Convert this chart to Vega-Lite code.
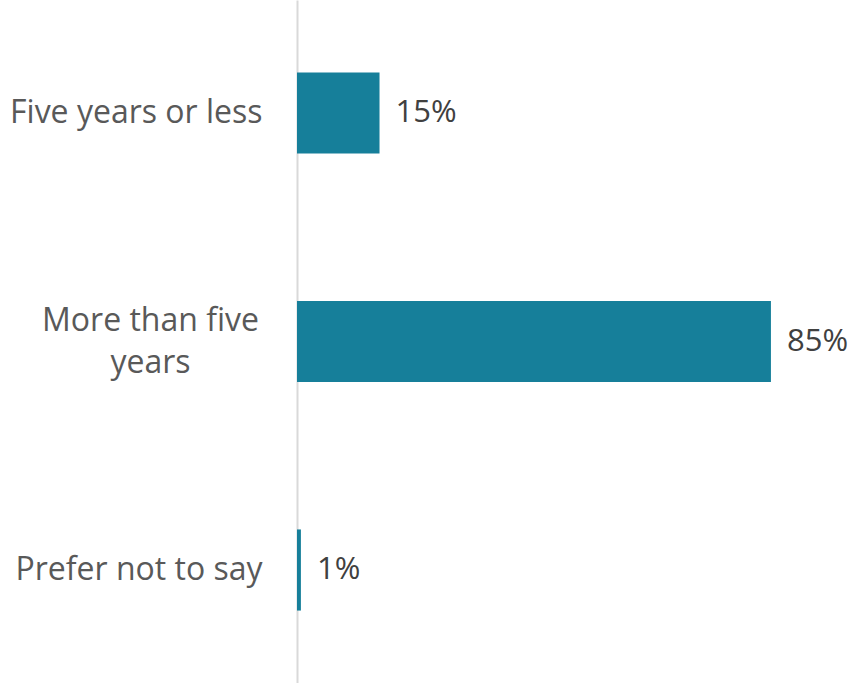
{
  "$schema": "https://vega.github.io/schema/vega-lite/v6.json",
  "width": 552,
  "height": 683,
  "autosize": {"type": "none"},
  "padding": {"left": 297, "top": 0, "right": 0, "bottom": 0},
  "background": "white",
  "config": {"view": {"stroke": null}, "font": "Open Sans"},
  "data": {
    "values": [
      {"category": "Five years or less", "value": 14.8, "label": "15%"},
      {"category": "More than five years", "value": 85, "label": "85%"},
      {"category": "Prefer not to say", "value": 0.7, "label": "1%"}
    ]
  },
  "encoding": {
    "y": {
      "field": "category",
      "type": "nominal",
      "sort": null,
      "scale": {"paddingInner": 0.645, "paddingOuter": 0.317},
      "axis": {
        "title": null,
        "ticks": false,
        "domainColor": "#d9d9d9",
        "domainWidth": 2,
        "labelFont": "Open Sans",
        "labelFontSize": 32,
        "labelColor": "#595959",
        "labelPadding": {"condition": {"test": "datum.value == 'More than five years'", "value": 147}, "value": 35},
        "labelAlign": {"condition": {"test": "datum.value == 'More than five years'", "value": "center"}, "value": "right"},
        "labelOffset": {"condition": {"test": "datum.value == 'More than five years'", "value": -21}, "value": 0},
        "labelLineHeight": 42,
        "labelLimit": 400,
        "labelExpr": "datum.value == 'More than five years' ? ['More than five', 'years'] : datum.value"
      }
    },
    "x": {
      "field": "value",
      "type": "quantitative",
      "scale": {"domain": [0, 99], "nice": false},
      "axis": null
    }
  },
  "layer": [
    {"mark": {"type": "bar", "color": "#167F9A"}},
    {
      "mark": {"type": "text", "align": "left", "baseline": "middle", "dx": 16, "font": "Open Sans", "fontSize": 31, "color": "#404040"},
      "encoding": {"text": {"field": "label"}}
    }
  ]
}
